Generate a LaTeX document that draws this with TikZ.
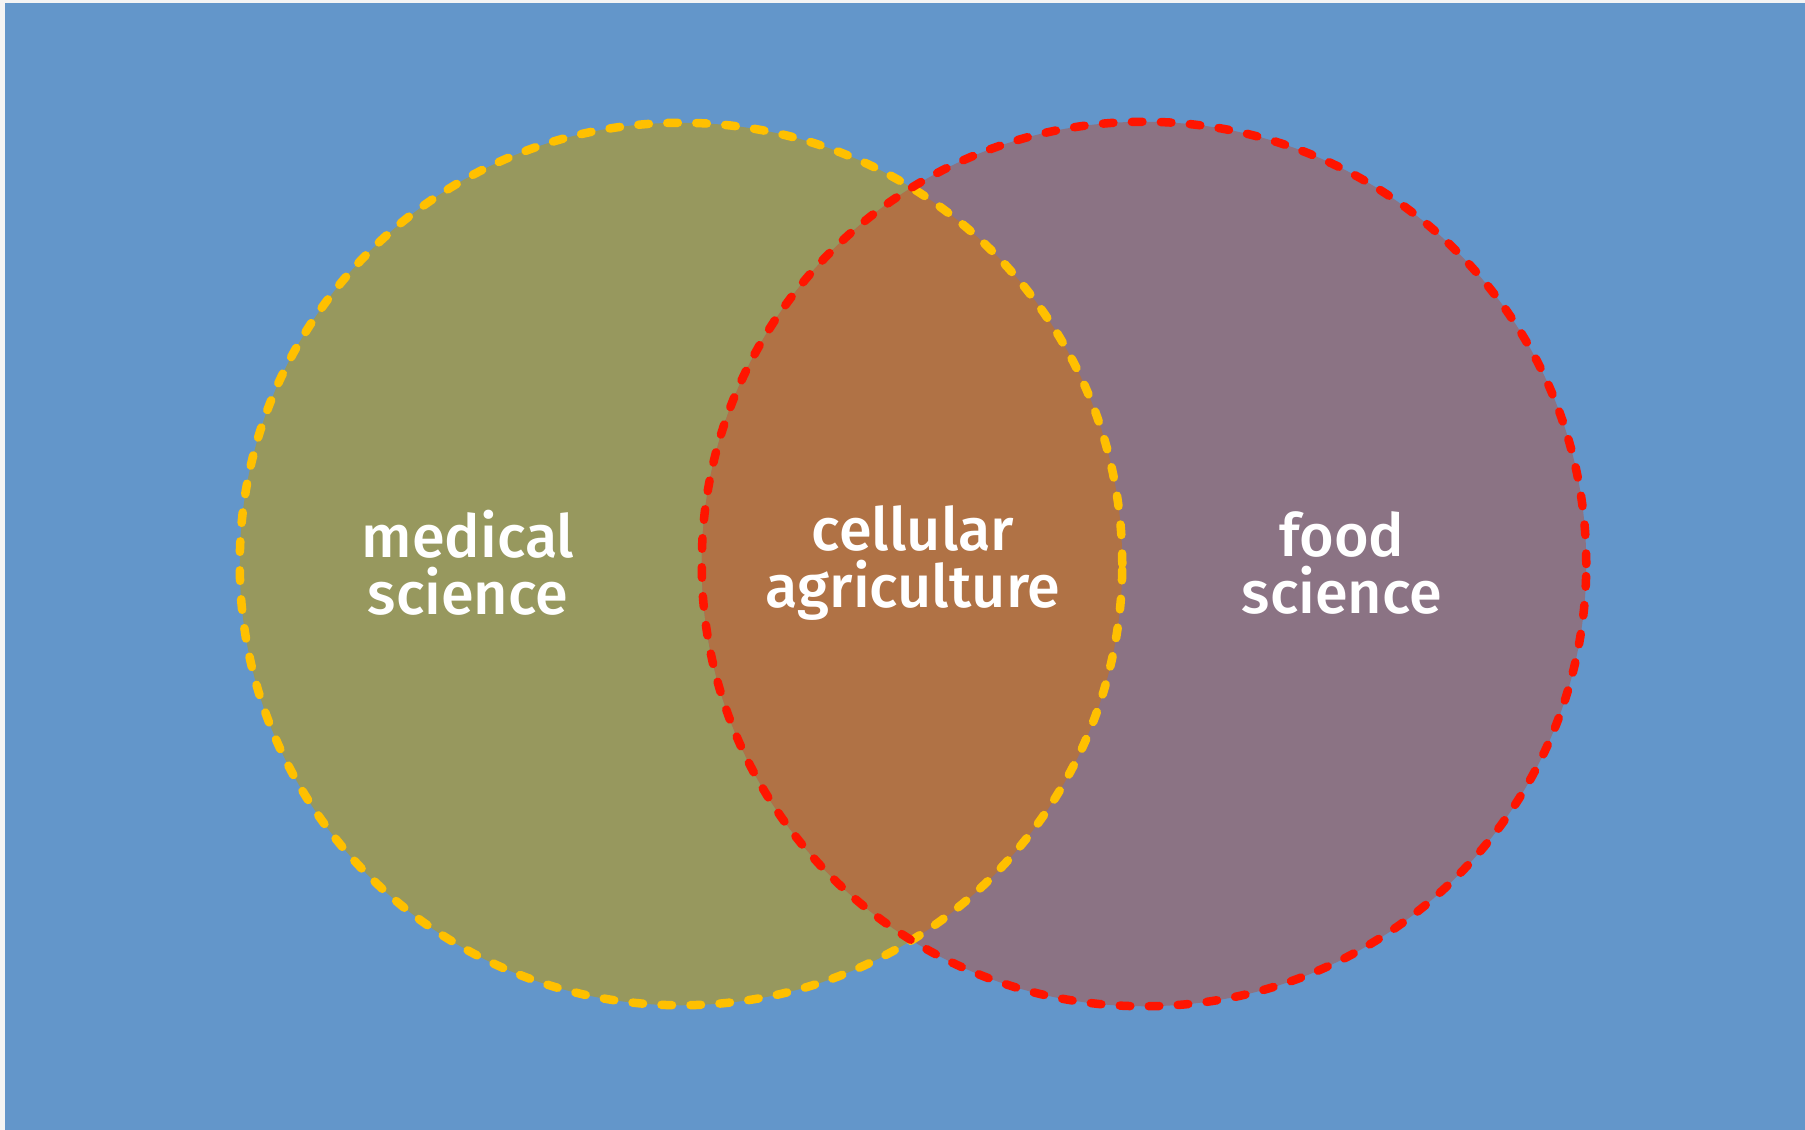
\documentclass[tikz,border=0pt]{standalone}
\usepackage{fontspec}
\setmainfont{Fira Sans Medium}
\definecolor{pagegray}{HTML}{F4F4F4}
\definecolor{bgblue}{HTML}{6396CA}
\definecolor{medfill}{HTML}{97985E}
\definecolor{foodfill}{HTML}{8B7384}
\definecolor{cellfill}{HTML}{B07245}
\definecolor{yellowring}{HTML}{FFC000}
\definecolor{redring}{HTML}{FF1500}
\tikzset{
  ring/.style={line width=0.085cm, line cap=round, dash pattern=on 0.105cm off 0.185cm},
  lbl/.style={text=white, align=center, font=\fontsize{16.9pt}{16.3pt}\selectfont, inner sep=0pt}
}
\begin{document}
\begin{tikzpicture}[x=0.01cm,y=-0.01cm]
\path[fill=pagegray] (0,0) rectangle (1805,1130);
\path[fill=bgblue] (5,3) rectangle (1805,1130);
\coordinate (cl) at (681,564);
\coordinate (cr) at (1144,564);
\fill[medfill] (cl) circle[radius=4.41cm];
\fill[foodfill] (cr) circle[radius=4.42cm];
\begin{scope}
  \clip (cl) circle[radius=4.41cm];
  \fill[cellfill] (cr) circle[radius=4.42cm];
\end{scope}
\draw[ring, yellowring] (cl) circle[radius=4.41cm];
\draw[ring, redring] (cr) circle[radius=4.42cm];
\node[lbl] (med) at (468,563) {medical\\science};
\node[lbl] (cell) at (913,563) {cellular\\agriculture};
\node[lbl] (food) at (1342,563) {food\\science};
\end{tikzpicture}
\end{document}
